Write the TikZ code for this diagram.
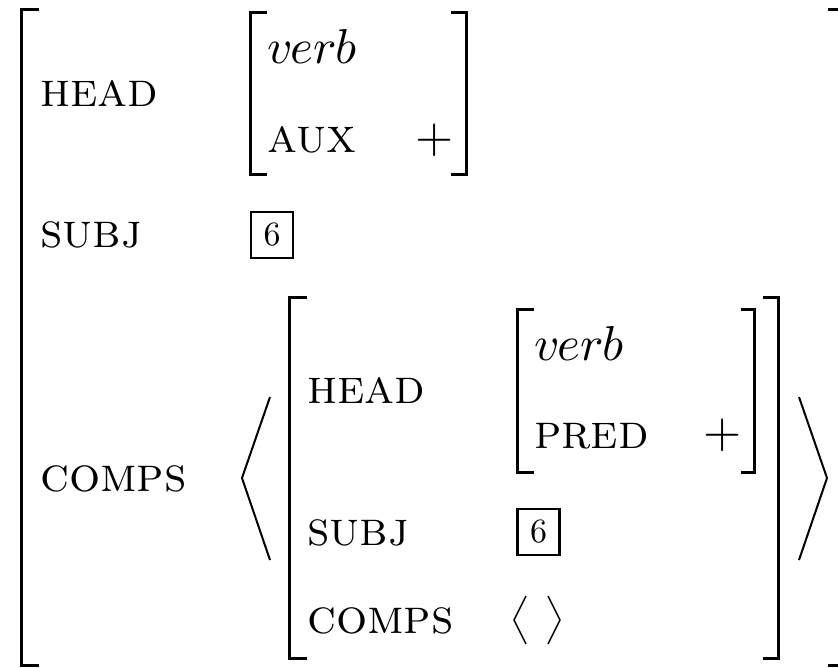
\documentclass[tikz,border=0pt]{standalone}
\font\featfont=cmcsc10 at 49pt
\font\valfont=cmmi10 at 49pt
\font\plusfont=cmr10 at 49pt
\font\tagfont=cmr10 at 34pt
\tikzset{
  feat/.style={anchor=base west, inner sep=0pt, font=\featfont},
  val/.style={anchor=base west, inner sep=0pt, font=\valfont},
  plusnode/.style={inner sep=0pt, font=\plusfont},
  tag/.style={draw, line width=2.2pt, inner sep=0pt, minimum width=42pt, minimum height=46pt, font=\tagfont},
  brk/.style={line width=3pt, line cap=rect},
  ang/.style={line width=2pt}
}
\begin{document}
\begin{tikzpicture}[x=1pt,y=-1pt]
\useasboundingbox (0,0) rectangle (838,667);
\clip (0,0) rectangle (838,667);
% outer matrix
\draw[brk] (37,9) -- (21,9) -- (21,665) -- (37,665);
\draw[brk] (829,9) -- (845,9) -- (845,665) -- (829,665);
\node[feat] (head1) at (40,106) {head};
\node[feat] (subj1) at (40,247) {subj};
\node[feat] (comps1) at (40,491) {comps};
% head value
\draw[brk] (265,12) -- (250,12) -- (250,174) -- (265,174);
\draw[brk] (452,12) -- (466,12) -- (466,174) -- (452,174);
\node[val] (verb1) at (267,63) {verb};
\node[feat] (aux) at (267,152) {aux};
\node[plusnode] (plus1) at (435,140) {+};
% subj value
\node[tag] (six1) at (272,235) {6};
% comps list
\draw[ang] (270,397) -- (242,478) -- (270,560);
\draw[ang] (799,397) -- (827,478) -- (799,560);
\draw[brk] (305,297) -- (289,297) -- (289,658) -- (305,658);
\draw[brk] (764,297) -- (778,297) -- (778,658) -- (764,658);
\node[feat] (head2) at (307,403) {head};
\draw[brk] (532,309) -- (517,309) -- (517,472) -- (532,472);
\draw[brk] (742,309) -- (754,309) -- (754,472) -- (742,472);
\node[val] (verb2) at (534,360) {verb};
\node[feat] (pred) at (534,448) {pred};
\node[plusnode] (plus2) at (723,435) {+};
\node[feat] (subj2) at (307,545) {subj};
\node[tag] (six2) at (538.5,532) {6};
\node[feat] (comps2) at (307,633) {comps};
\draw[line width=1.5pt] (526,596) -- (514,620) -- (526,644);
\draw[line width=1.5pt] (548,596) -- (560,620) -- (548,644);
\end{tikzpicture}
\end{document}
